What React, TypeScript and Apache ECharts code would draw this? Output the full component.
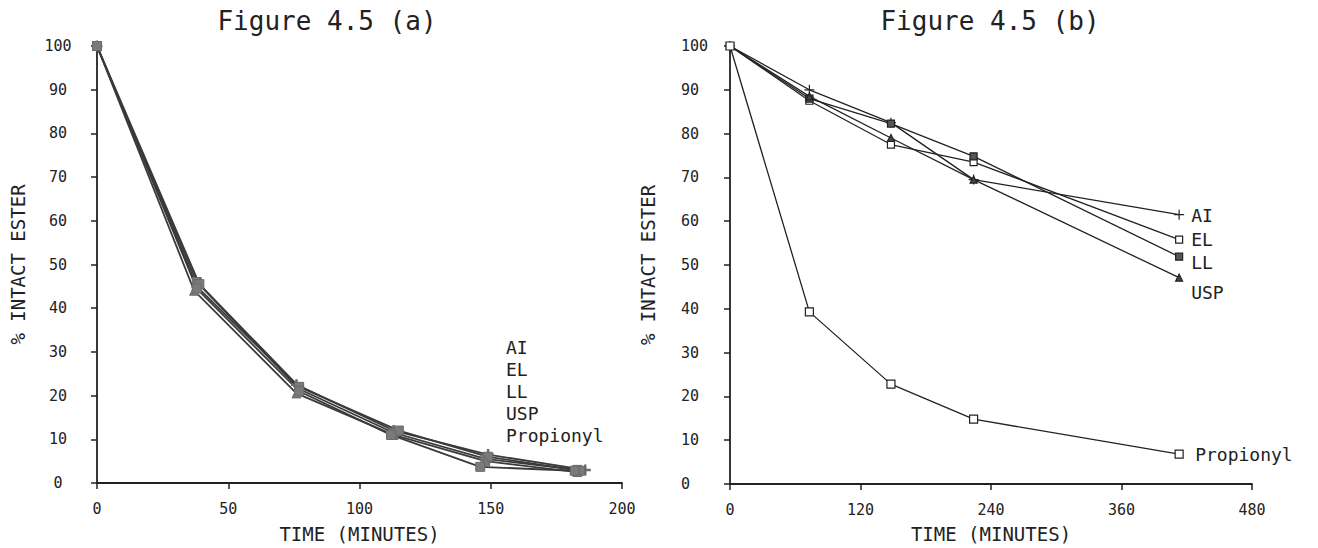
import React, { useEffect, useRef } from "react";
import * as echarts from "echarts";

const FONT = "DejaVu Sans Mono";

const seriesNames = ["AI", "EL", "LL", "USP", "Propionyl"];

// Figure 4.5 (a)
const aTimeAI = [0, 38, 76, 113, 149, 186];
const aAI = [100, 45, 22.5, 12, 6.5, 3];
const aTimeEL = [0, 38, 77, 113, 148, 183];
const aEL = [100, 46, 21.5, 11.5, 5.5, 3];
const aTimeLL = [0, 39, 77, 115, 149, 184];
const aLL = [100, 45.5, 22, 12, 6, 2.8];
const aTimeUSP = [0, 37, 76, 113, 148, 183];
const aUSP = [100, 44, 20.5, 11, 5, 2.5];
const aTimePro = [0, 38, 77, 112, 146, 182];
const aPro = [100, 44.5, 21, 11, 3.7, 2.8];

// Figure 4.5 (b)
const bTimes = [0, 73, 148, 224, 413];
const bAI = [100, 90, 82.5, 69.5, 61.5];
const bEL = [100, 87.5, 77.5, 73.5, 55.8];
const bLL = [100, 88, 82.3, 74.8, 51.9];
const bUSP = [100, 88.5, 79, 69.5, 47.1];
const bPro = [100, 39.3, 22.8, 14.8, 6.8];

const xTicksA = { min: 0, max: 200, interval: 50 };
const xTicksB = { min: 0, max: 480, interval: 120 };
const yTicks = { min: 0, max: 100, interval: 10 };

const PLUS = "path://M0,5L10,5M5,0L5,10";

const zip = (xs: number[], ys: number[]) => xs.map((x, i) => [x, ys[i]]);

export default function App() {
  const ref = useRef<HTMLDivElement>(null);
  useEffect(() => {
    if (!ref.current) return;
    const chart = echarts.init(ref.current, undefined, { renderer: "svg" });
    const ink = "#222";
    const axisCommon = {
      axisLine: { show: true, lineStyle: { color: ink, width: 1.8 } },
      axisTick: { show: true, inside: false, length: 6, lineStyle: { color: ink, width: 1.5 } },
      splitLine: { show: false },
      nameMoveOverlap: false,
      nameTextStyle: { fontFamily: FONT, fontSize: 19, color: ink },
    };
    const labelStyle = { fontFamily: FONT, fontSize: 15, color: ink };

    const leftSymbols = [PLUS, "rect", "rect", "triangle", "rect"];
    const leftData = [
      zip(aTimeAI, aAI),
      zip(aTimeEL, aEL),
      zip(aTimeLL, aLL),
      zip(aTimeUSP, aUSP),
      zip(aTimePro, aPro),
    ];
    const leftSeries = seriesNames.map((n, i) => ({
      type: "line",
      name: n + " (a)",
      xAxisIndex: 0,
      yAxisIndex: 0,
      data: leftData[i],
      symbol: leftSymbols[i],
      symbolSize: i === 0 ? 11 : 9,
      showSymbol: true,
      lineStyle: { color: "#3a3a3a", width: 1.8 },
      itemStyle: {
        color: i === 0 ? "none" : "#7a7a7a",
        borderColor: "#6a6a6a",
        borderWidth: i === 0 ? 2.5 : 1,
      },
      z: 3,
    }));

    const rightData = [bAI, bEL, bLL, bUSP, bPro].map((v) => zip(bTimes, v));
    const rightSymbols = [PLUS, "rect", "rect", "triangle", "rect"];
    const rightFill = ["none", "#fff", "#555", "#444", "#fff"];
    const rightSize = [10, 7, 7, 7, 8];
    const rightOffset = [
      [0, 1],
      [0, 0],
      [0, 6],
      [0, 15],
      [0, 0],
    ];
    const rightDistance = [12, 12, 12, 12, 16];
    const rightSeries = seriesNames.map((n, i) => ({
      type: "line",
      name: n,
      xAxisIndex: 1,
      yAxisIndex: 1,
      data: rightData[i],
      symbol: rightSymbols[i],
      symbolSize: rightSize[i],
      showSymbol: true,
      lineStyle: { color: ink, width: 1.3 },
      itemStyle: { color: rightFill[i], borderColor: ink, borderWidth: 1.2 },
      endLabel: {
        show: true,
        formatter: n,
        distance: rightDistance[i],
        offset: rightOffset[i],
        fontFamily: FONT,
        fontSize: 18,
        color: ink,
      },
      z: 3,
    }));

    chart.setOption({
      animation: false,
      backgroundColor: "#fff",
      grid: [
        { left: 97, top: 46, width: 525, height: 438 },
        { left: 730, top: 46, width: 522, height: 439 },
      ],
      xAxis: [
        {
          type: "value",
          gridIndex: 0,
          ...xTicksA,
          name: "TIME (MINUTES)",
          nameLocation: "middle",
          nameGap: 41,
          ...axisCommon,
          axisLabel: { ...labelStyle, margin: 18 },
        },
        {
          type: "value",
          gridIndex: 1,
          ...xTicksB,
          name: "TIME (MINUTES)",
          nameLocation: "middle",
          nameGap: 40,
          ...axisCommon,
          axisLabel: { ...labelStyle, margin: 18 },
        },
      ],
      yAxis: [
        {
          type: "value",
          gridIndex: 0,
          ...yTicks,
          name: "% INTACT ESTER",
          nameLocation: "middle",
          nameGap: 70,
          ...axisCommon,
          axisLabel: { ...labelStyle, align: "center", margin: 39 },
        },
        {
          type: "value",
          gridIndex: 1,
          ...yTicks,
          name: "% INTACT ESTER",
          nameLocation: "middle",
          nameGap: 73,
          ...axisCommon,
          axisLabel: { ...labelStyle, align: "left", margin: 49 },
        },
      ],
      graphic: [
        {
          type: "text",
          x: 327,
          y: 21,
          style: {
            text: "Figure 4.5 (a)",
            fontFamily: FONT,
            fontSize: 26,
            fill: ink,
            textAlign: "center",
            textVerticalAlign: "middle",
          },
        },
        {
          type: "text",
          x: 990,
          y: 21,
          style: {
            text: "Figure 4.5 (b)",
            fontFamily: FONT,
            fontSize: 26,
            fill: ink,
            textAlign: "center",
            textVerticalAlign: "middle",
          },
        },
        {
          type: "text",
          x: 506,
          y: 336,
          style: {
            text: seriesNames.join("\n"),
            fontFamily: FONT,
            fontSize: 18,
            lineHeight: 22,
            fill: ink,
          },
        },
      ],
      series: [...leftSeries, ...rightSeries],
    });
    return () => chart.dispose();
  }, []);
  return (
    <div
      ref={ref}
      style={{ position: "absolute", left: 0, top: 0, width: 1318, height: 548, background: "#fff" }}
    />
  );
}
